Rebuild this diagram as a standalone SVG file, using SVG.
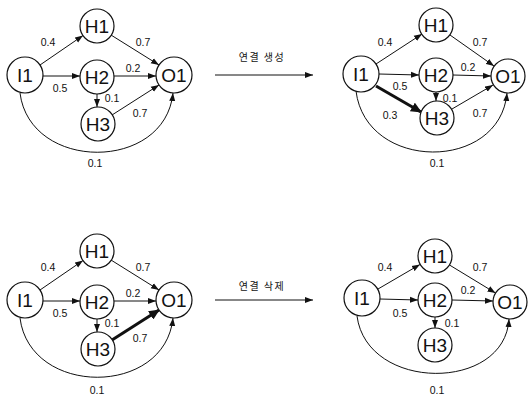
<svg xmlns="http://www.w3.org/2000/svg" width="528" height="405" viewBox="0 0 528 405">
<style>
.n{fill:#fff;stroke:#111;stroke-width:1.2}
.t{font-family:"Liberation Sans",Arial,sans-serif;font-size:19px;fill:#111;text-anchor:middle;dominant-baseline:central}
.l{font-family:"Liberation Sans",Arial,sans-serif;font-size:10.5px;fill:#111;text-anchor:middle}
.k{font-family:"Noto Sans CJK KR","Noto Sans CJK SC",sans-serif;font-size:10px;fill:#111;text-anchor:middle;letter-spacing:1.5px}
.e{fill:none;stroke:#111;stroke-width:1;marker-end:url(#a)}
.b{fill:none;stroke:#111;stroke-width:3;marker-end:url(#ab)}
</style>
<defs>
<marker id="a" markerUnits="userSpaceOnUse" markerWidth="9" markerHeight="7" refX="8" refY="3.5" orient="auto"><path d="M0,0.5 L8,3.5 L0,6.5 Z" fill="#111"/></marker>
<marker id="ab" markerUnits="userSpaceOnUse" markerWidth="12" markerHeight="10" refX="10" refY="5" orient="auto"><path d="M0,0 L11,5 L0,10 Z" fill="#111"/></marker>
</defs>
<g id="connectors">
<!-- panel 1 -->
<path class="e" d="M40,65 L83,35.5"/>
<path class="e" d="M43,76 L80,76"/>
<path class="e" d="M111,35 L159,65"/>
<path class="e" d="M114,76 L156,76"/>
<path class="e" d="M97,94 L97,107"/>
<path class="e" d="M112,115 L159,85"/>
<path class="e" d="M20,93 C30,172 165,172 173,93"/>
<!-- panel 2 -->
<path class="e" d="M376,64 L422,34"/>
<path class="e" d="M379,74 L419,75"/>
<path class="e" d="M450,35 L494,66"/>
<path class="e" d="M453,75 L491,76"/>
<path class="e" d="M436,92 L436,101"/>
<path class="e" d="M452,109 L493,85"/>
<path class="b" d="M376,86 L421,112"/>
<path class="e" d="M356,91 C366,172 500,172 507,93"/>
<!-- panel 3 -->
<path class="e" d="M40,290 L83,260.5"/>
<path class="e" d="M43,301 L80,301"/>
<path class="e" d="M111,260 L159,290"/>
<path class="e" d="M114,301 L156,301"/>
<path class="e" d="M97,319 L97,332"/>
<path class="b" d="M112,340 L159,310"/>
<path class="e" d="M20,318 C30,397 165,397 173,318"/>
<!-- panel 4 -->
<path class="e" d="M378,289 L420,264.5"/>
<path class="e" d="M380,299 L418,300"/>
<path class="e" d="M449.5,265 L495.5,293"/>
<path class="e" d="M452,300 L493,301"/>
<path class="e" d="M435,317 L435,328"/>
<path class="e" d="M357,316 C367,392 505,392 509,319"/>
<!-- transitions -->
<path class="e" d="M215,75 L313,75"/>
<path class="e" d="M215,300 L313,300"/>
</g>
<g id="labels">
<text class="l" x="48" y="46">0.4</text>
<text class="l" x="143" y="46">0.7</text>
<text class="l" x="133" y="72">0.2</text>
<text class="l" x="60" y="92">0.5</text>
<text class="l" x="112" y="102">0.1</text>
<text class="l" x="140" y="117">0.7</text>
<text class="l" x="95" y="167">0.1</text>
<text class="l" x="385" y="46">0.4</text>
<text class="l" x="480" y="46">0.7</text>
<text class="l" x="468" y="71">0.2</text>
<text class="l" x="400" y="90">0.5</text>
<text class="l" x="450" y="102">0.1</text>
<text class="l" x="390" y="119">0.3</text>
<text class="l" x="480" y="117">0.7</text>
<text class="l" x="437" y="167">0.1</text>
<text class="l" x="48" y="271">0.4</text>
<text class="l" x="143" y="271">0.7</text>
<text class="l" x="133" y="297">0.2</text>
<text class="l" x="60" y="317">0.5</text>
<text class="l" x="112" y="327">0.1</text>
<text class="l" x="140" y="342">0.7</text>
<text class="l" x="97" y="394">0.1</text>
<text class="l" x="385" y="271">0.4</text>
<text class="l" x="480" y="271">0.7</text>
<text class="l" x="468" y="294">0.2</text>
<text class="l" x="400" y="317">0.5</text>
<text class="l" x="452" y="327">0.1</text>
<text class="l" x="437" y="394">0.1</text>
<text class="k" x="262" y="61">연결 생성</text>
<text class="k" x="262" y="290">연결 삭제</text>
</g>
<g id="p1-I1"><circle class="n" cx="25" cy="75" r="18"/><text class="t" x="25" y="75">I1</text></g>
<g id="p1-H1"><circle class="n" cx="97" cy="26" r="17"/><text class="t" x="97" y="26">H1</text></g>
<g id="p1-H2"><circle class="n" cx="97" cy="77" r="17"/><text class="t" x="97" y="77">H2</text></g>
<g id="p1-H3"><circle class="n" cx="98" cy="124" r="17"/><text class="t" x="98" y="124">H3</text></g>
<g id="p1-O1"><circle class="n" cx="174" cy="75" r="18"/><text class="t" x="174" y="75">O1</text></g>
<g id="p2-I1"><circle class="n" cx="361" cy="74" r="18"/><text class="t" x="361" y="74">I1</text></g>
<g id="p2-H1"><circle class="n" cx="436" cy="25" r="17"/><text class="t" x="436" y="25">H1</text></g>
<g id="p2-H2"><circle class="n" cx="436" cy="75" r="17"/><text class="t" x="436" y="75">H2</text></g>
<g id="p2-H3"><circle class="n" cx="437" cy="118" r="17"/><text class="t" x="437" y="118">H3</text></g>
<g id="p2-O1"><circle class="n" cx="508" cy="76" r="17"/><text class="t" x="508" y="76">O1</text></g>
<g id="p3-I1"><circle class="n" cx="25" cy="300" r="18"/><text class="t" x="25" y="300">I1</text></g>
<g id="p3-H1"><circle class="n" cx="97" cy="251" r="17"/><text class="t" x="97" y="251">H1</text></g>
<g id="p3-H2"><circle class="n" cx="97" cy="302" r="17"/><text class="t" x="97" y="302">H2</text></g>
<g id="p3-H3"><circle class="n" cx="98" cy="349" r="17"/><text class="t" x="98" y="349">H3</text></g>
<g id="p3-O1"><circle class="n" cx="174" cy="300" r="18"/><text class="t" x="174" y="300">O1</text></g>
<g id="p4-I1"><circle class="n" cx="362" cy="298" r="18"/><text class="t" x="362" y="298">I1</text></g>
<g id="p4-H1"><circle class="n" cx="435" cy="256" r="17"/><text class="t" x="435" y="256">H1</text></g>
<g id="p4-H2"><circle class="n" cx="435" cy="300" r="17"/><text class="t" x="435" y="300">H2</text></g>
<g id="p4-H3"><circle class="n" cx="435" cy="345" r="17"/><text class="t" x="435" y="345">H3</text></g>
<g id="p4-O1"><circle class="n" cx="510" cy="302" r="17"/><text class="t" x="510" y="302">O1</text></g>
</svg>
